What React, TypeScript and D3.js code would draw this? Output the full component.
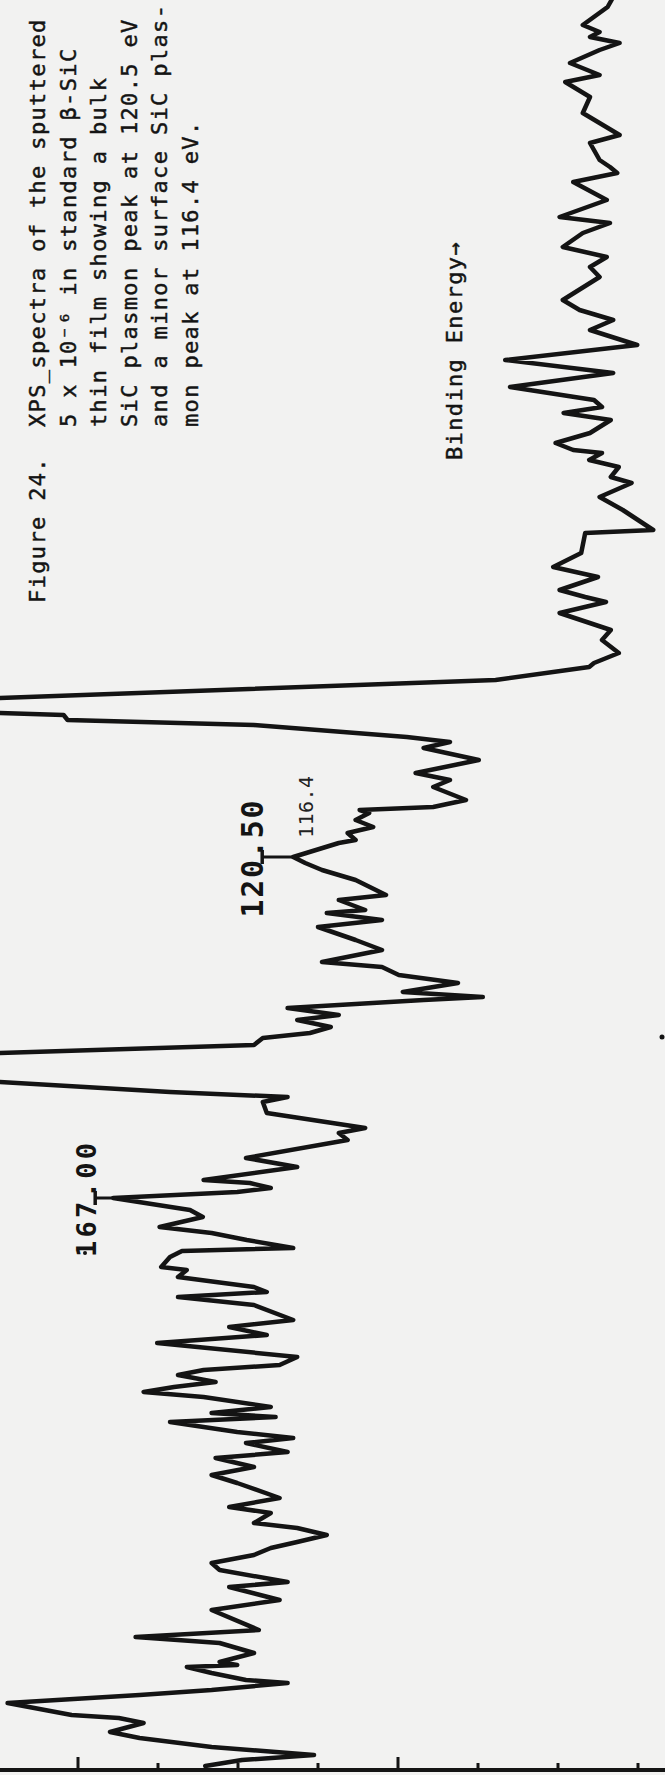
import React from 'react';
import * as d3 from 'd3';

// Scan position (channel, increasing with binding energy) and recorder intensity (chart divisions)
const channel = [
  355, 353.6, 350, 348.6, 347.6, 346.4, 345, 342.4, 340, 338.6, 335.6, 332.4, 328, 326.4, 323, 321.6,
  320.4, 318.6, 315, 311.6, 310.4, 308.4, 305.6, 303.6, 301.6, 299.6, 295, 293, 291, 289, 286, 283,
  280.4, 277.6, 275, 273.6, 272.4, 271, 268.4, 266.4, 265, 264.4, 263, 261.6, 259.6, 258.4, 255.6, 253,
  249, 248.4, 244.4, 241.6, 239.6, 237, 235.6, 234.6, 232.4, 229, 227, 224.4, 222.4, 221.6, 219, 215.4,
  213.8, 212.4,
  212, 211, 210, 207.6, 206.6, 205.4, 203, 200.4, 199, 197.6, 195, 193.6, 193, 192.4, 191, 189.6,
  188.4, 187, 186.4, 183.6, 182.4, 181, 179, 176, 175, 173, 172.4, 171, 169.6, 167, 165, 162.6,
  161.6, 160, 158.4, 156.6, 155.6, 155, 153.4, 152, 151, 149.6, 148.4, 147.4, 146, 144.4, 142.2, 138.6,
  136.6, 135.6, 134.6, 132.4, 129.4, 128.4, 127, 123.4, 121.6, 119, 118.4, 117.4, 116.6, 115.4, 113, 111.6,
  109.6, 108.4, 107, 105.4, 104.8, 103.6, 101.6, 101, 99.6, 97.6, 96.6, 95.6, 94, 91, 89.6, 88,
  86.4, 85.4, 83.6, 82, 81, 80, 78.6, 77.6, 76.6, 75.6, 73.6, 72.4, 71.6, 70.6, 68.6, 67.4,
  66.4, 64.6, 63.4, 61.6, 60, 58.4, 55.4, 53.6, 52.4, 50.4, 49.4, 48, 46.6, 45.4, 44, 42.4,
  41, 38.6, 37.6, 35, 33, 29, 27.6, 26.4, 24.4, 22.6, 22, 21.6, 20.4, 19, 18.4, 17,
  16, 14.4, 12, 11.4, 10.4, 8.6, 7.4, 5.6, 4, 3, 1.8,
];
const intensity = [
  1.33, 1.38, 1.69, 1.48, 1.6, 1.23, 1.48, 1.85, 1.48, 1.91, 1.6, 1.69, 1.23, 1.6, 1.48, 1.35,
  1.26, 1.81, 1.39, 1.98, 1.35, 1.69, 1.94, 1.39, 1.6, 1.48, 1.94, 1.73, 1.31, 1.6, 1.01, 2.66,
  1.31, 2.6, 1.55, 1.45, 1.93, 1.34, 1.6, 2.03, 1.81, 1.45, 1.61, 1.24, 1.34, 1.08, 1.48, 1.19,
  0.81, 1.66, 1.71, 2.06, 1.5, 1.98, 1.66, 1.4, 1.98, 1.34, 1.45, 1.24, 1.55, 1.61, 2.78, 8.98,
  11.7, 8.98,
  8.18, 8.13, 5.8, 3.89, 3.35, 3.68, 2.99, 3.78, 3.35, 3.56, 3.15, 3.56, 4.48, 4.36, 4.53, 4.31,
  4.63, 4.53, 4.74, 5.31, 5.16, 4.95, 4.53, 4.15, 4.74, 4.41, 4.89, 4.2, 5.0, 4.53, 4.2, 4.95,
  4.2, 3.99, 3.25, 3.94, 2.94, 3.68, 5.38, 4.74, 5.26, 4.84, 5.1, 5.69, 5.8, 8.98, 13.35, 8.98,
  6.85, 5.38, 5.69, 5.64, 4.41, 4.74, 4.63, 5.9, 5.26, 6.43, 5.85, 5.59, 6.01, 7.56, 6.6, 6.44,
  6.98, 6.33, 5.89, 5.31, 6.7, 6.85, 6.96, 6.64, 6.75, 5.8, 5.64, 6.75, 5.8, 5.31, 6.11, 5.64,
  7.01, 6.38, 5.26, 5.48, 6.43, 6.75, 6.28, 6.8, 7.18, 6.43, 5.59, 6.33, 5.53, 6.85, 6.01, 5.31,
  5.9, 5.38, 6.28, 5.8, 6.33, 6.01, 5.48, 6.11, 5.59, 5.8, 5.26, 4.89, 5.26, 5.59, 5.8, 6.33,
  6.23, 5.38, 6.11, 5.48, 6.33, 5.74, 7.28, 6.23, 5.8, 6.23, 6.01, 6.64, 6.33, 5.9, 5.38, 6.33,
  7.23, 8.88, 8.08, 7.49, 7.18, 7.6, 7.23, 6.33, 5.05, 5.95, 6.41,
];

const intensityTicks = [0, 1, 2, 3, 4, 5, 6, 7, 8, 9];
const majorTicks = [4, 8];

const figureLabel = 'Figure 24.';
const captionLines = [
  'XPS_spectra of the sputtered',
  '5 x 10\u207B\u2076 in standard \u03B2-SiC',
  'thin film showing a bulk',
  'SiC plasmon peak at 120.5 eV',
  'and a minor surface SiC plas-',
  'mon peak at 116.4 eV.',
];
const axisTitle = 'Binding Energy\u2192';

// instrument peak markers: label, channel, intensity at the trace
const markerLabels = ['120.50', '167.00'];
const markerChannels = [183.6, 115.4];
const markerIntensities = [5.31, 7.56];
const annotationText = '116.4';
const annotationChannel = 187.4;

const W = 665;
const H = 1775;

export default function App() {
  const y = d3.scaleLinear().domain([0, 355]).range([H, 0]);
  const x = d3.scaleLinear().domain([0, 9]).range([718, -2]);
  const pts: [number, number][] = channel.map((c, i) => [x(intensity[i]), y(c)]);
  const line = d3.line<[number, number]>().x((d) => d[0]).y((d) => d[1]).curve(d3.curveLinear);
  const ink = '#141414';
  const mono = "'DejaVu Sans Mono', monospace";
  const axisY = 1770;

  return (
    <svg width={W} height={H} viewBox={`0 0 ${W} ${H}`}
      style={{ position: 'absolute', left: 0, top: 0, background: '#f2f2f1', display: 'block' }}>
      <defs>
        <clipPath id="plot"><rect x={0} y={0} width={W} height={H} /></clipPath>
      </defs>
      <rect x={0} y={0} width={W} height={H} fill="#f2f2f1" />

      {/* caption */}
      <g fill={ink} stroke={ink} strokeWidth={0.45} fontFamily={mono} fontSize={22} letterSpacing={1.35}>
        <text transform={`translate(45,603) rotate(-90)`}>{figureLabel}</text>
        {captionLines.map((t, i) => (
          <text key={i} transform={`translate(${45 + i * 30.5},427) rotate(-90)`}>{t}</text>
        ))}
        <text transform={`translate(462,460) rotate(-90)`}>{axisTitle}</text>
      </g>

      {/* spectrum trace */}
      <g clipPath="url(#plot)">
        <path d={line(pts) || ''} fill="none" stroke={ink} strokeWidth={4.5}
          strokeLinejoin="round" strokeLinecap="round" />
      </g>

      {/* instrument markers */}
      {markerLabels.map((lab, i) => {
        const px = x(markerIntensities[i]);
        const py = y(markerChannels[i]);
        const lx = i === 0 ? px - 31 : px - 18;
        return (
          <g key={lab}>
            <line x1={lx} y1={py} x2={px} y2={py} stroke={ink} strokeWidth={3} />
            <line x1={lx} y1={py - 7} x2={lx} y2={py + 7} stroke={ink} strokeWidth={3.5} />
            <text transform={`translate(${lx + 1},${py + 2}) rotate(-90)`} textAnchor="middle"
              fontFamily={mono} fontWeight="bold" fontSize={i === 0 ? 30 : 27} fill={ink}
              textLength={i === 0 ? 117 : 114} lengthAdjust="spacing">{lab}</text>
          </g>
        );
      })}
      <text transform={`translate(313,${y(annotationChannel)}) rotate(-90)`}
        fontFamily={mono} fontSize={20} fill="#222" textLength={62} lengthAdjust="spacing">
        {annotationText}
      </text>

      {/* intensity axis */}
      <line x1={0} y1={axisY} x2={W} y2={axisY} stroke={ink} strokeWidth={4} />
      {intensityTicks.map((t) => {
        const len = majorTicks.includes(t) ? 13 : 7;
        return <line key={t} x1={x(t)} x2={x(t)} y1={axisY} y2={axisY - len} stroke={ink} strokeWidth={3} />;
      })}

      {/* specks on the scan */}
      <circle cx={662} cy={1037} r={2.5} fill={ink} />
      <circle cx={85} cy={1253} r={2} fill={ink} />
    </svg>
  );
}
